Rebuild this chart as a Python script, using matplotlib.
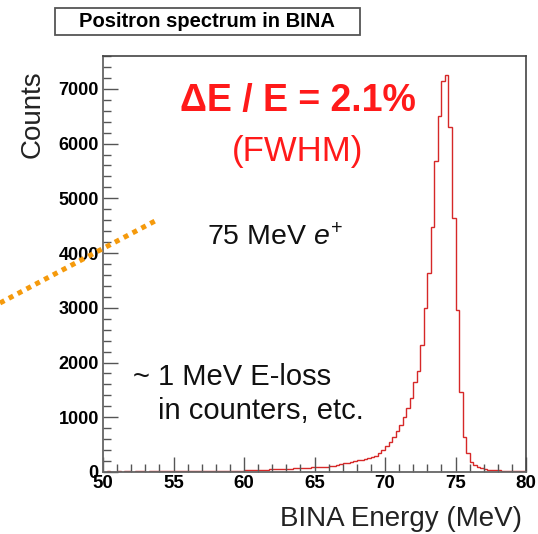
import numpy as np
import matplotlib
matplotlib.use("Agg")
import matplotlib.pyplot as plt
from matplotlib.ticker import MultipleLocator
from matplotlib.patches import Rectangle
from matplotlib.lines import Line2D

plt.rcParams['font.family'] = ['Liberation Sans', 'DejaVu Sans']
plt.rcParams['mathtext.fontset'] = 'custom'
plt.rcParams['mathtext.rm'] = 'Liberation Sans'
plt.rcParams['mathtext.it'] = 'Liberation Sans:italic'

# ---- data (counts per 0.25 MeV bin, 50 -> 80 MeV) ----
x_min, x_max, bin_width = 50.0, 80.0, 0.25
counts_50_55 = [8, 10, 7, 9, 11, 8, 10, 12, 9, 11, 10, 12, 9, 13, 11, 12, 10, 13, 12, 14]
counts_55_60 = [12, 14, 13, 15, 16, 14, 17, 18, 16, 19, 18, 20, 21, 19, 22, 23, 21, 24, 25, 26]
counts_60_65 = [28, 30, 32, 35, 38, 40, 44, 46, 50, 52, 55, 57, 60, 63, 66, 70, 73, 76, 80, 83]
counts_65_70 = [85, 88, 92, 98, 110, 115, 125, 140, 160, 165, 175, 195, 215, 225, 240, 255,
                275, 300, 340, 400]
counts_70_75 = [475, 555, 645, 740, 860, 1010, 1170, 1350, 1650, 1850, 2320, 2993, 3632, 4485,
                5673, 6495, 7135, 7245, 6300, 4643]
counts_75_80 = [2962, 1468, 645, 342, 188, 128, 90, 70, 55, 45, 38, 32, 28, 25, 22, 20, 18, 16,
                15, 14]
counts = np.array(counts_50_55 + counts_55_60 + counts_60_65 + counts_65_70 + counts_70_75 + counts_75_80)
n_bins = int(round((x_max - x_min) / bin_width))
edges = np.linspace(x_min, x_max, n_bins + 1)

y_max = 7600
x_ticks = [50, 55, 60, 65, 70, 75, 80]
y_ticks = [0, 1000, 2000, 3000, 4000, 5000, 6000, 7000]

W, H = 538, 534
fig = plt.figure(figsize=(W / 100, H / 100), dpi=100)
ax = fig.add_axes([103 / W, 1 - 472 / H, (526 - 103) / W, (472 - 56) / H])

ax.stairs(counts, edges, color='#d62828', lw=1.0)

ax.set_xlim(x_min, x_max)
ax.set_ylim(0, y_max)
ax.set_xticks(x_ticks)
ax.set_yticks(y_ticks)
ax.xaxis.set_minor_locator(MultipleLocator(1))
ax.yaxis.set_minor_locator(MultipleLocator(200))
ax.tick_params(which='both', direction='in', top=False, right=False, color='#555555', width=1.0)
ax.tick_params(which='major', length=11)
ax.tick_params(which='minor', length=5.5)
ax.tick_params(axis='x', which='major', labelsize=13.5, pad=2)
ax.tick_params(axis='y', which='major', labelsize=13, pad=3)
for lab in ax.get_xticklabels() + ax.get_yticklabels():
    lab.set_fontweight('bold')
for s in ['left', 'bottom']:
    ax.spines[s].set_color('#666666')
    ax.spines[s].set_linewidth(1.3)
for s in ['top', 'right']:
    ax.spines[s].set_color('#444444')
    ax.spines[s].set_linewidth(1.2)

# axis labels
fig.text(522 / W, 1 - 519 / H, 'BINA Energy (MeV)', ha='right', va='center', fontsize=20, color='#222222')
fig.text(33 / W, 1 - 114 / H, 'Counts', ha='center', va='center', rotation=90, fontsize=20, color='#222222')

# title box
fig.patches.append(Rectangle((55 / W, 1 - 35 / H), (360 - 55) / W, (35 - 8) / H, transform=fig.transFigure,
                             facecolor='white', edgecolor='#555555', lw=1.3))
fig.text(207 / W, 1 - 21.5 / H, 'Positron spectrum in BINA', ha='center', va='center',
         fontsize=14.5, fontweight='bold')

# annotations
fig.text(298 / W, 1 - 101 / H, 'ΔE / E = 2.1%', ha='center', va='center', fontsize=27,
         fontweight='bold', color='#ff1a1a')
fig.text(298 / W, 1 - 152 / H, '(FWHM)', ha='center', va='center', fontsize=25, color='#ff1a1a')
fig.text(207 / W, 1 - 238 / H, r'75 MeV $e^{+}$', ha='left', va='center', fontsize=20.5, color='#111111')
fig.text(133 / W, 1 - 377 / H, '~ 1 MeV E-loss', ha='left', va='center', fontsize=21, color='#111111')
fig.text(158 / W, 1 - 411 / H, 'in counters, etc.', ha='left', va='center', fontsize=21, color='#111111')

# orange dotted pointer line
fig.add_artist(Line2D([0 / W, 155 / W], [1 - 303 / H, 1 - 221 / H], transform=fig.transFigure,
                      color='#f59a0c', lw=3.6, linestyle=(0, (1, 1)), solid_capstyle='butt',
                      dash_capstyle='butt'))

fig.savefig('out.png', dpi=100)
